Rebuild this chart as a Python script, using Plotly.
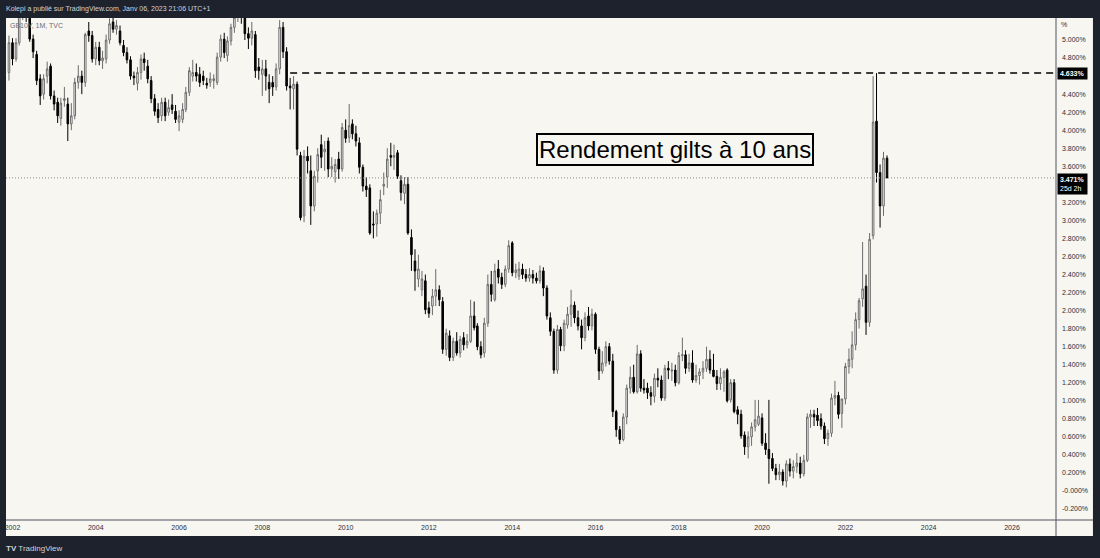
import pandas as pd
import plotly.graph_objects as go

# GB10Y, 1M, TVC : bougies mensuelles de déc. 2001 à janv. 2023
opens = [
    4.64,
    4.97, 4.79, 4.97, 5.30, 5.32, 5.24, 5.01, 4.84, 4.57, 4.40, 4.60, 4.71,  # 2002
    4.38, 4.31, 4.13, 4.33, 4.29, 4.07, 4.16, 4.53, 4.60, 4.53, 5.10, 5.05,  # 2003
    4.79, 4.92, 4.77, 4.79, 5.00, 5.20, 5.12, 5.10, 4.94, 4.86, 4.78, 4.60,  # 2004
    4.52, 4.64, 4.79, 4.71, 4.55, 4.35, 4.23, 4.16, 4.31, 4.20, 4.28, 4.21,  # 2005
    4.09, 4.12, 4.23, 4.42, 4.60, 4.64, 4.62, 4.60, 4.52, 4.53, 4.55, 4.53,  # 2006
    4.81, 5.01, 4.83, 4.99, 5.14, 5.25, 5.34, 5.26, 5.07, 5.02, 5.06, 4.70,  # 2007
    4.62, 4.68, 4.53, 4.53, 4.48, 4.68, 5.14, 4.87, 4.49, 4.46, 4.51, 3.72,  # 2008
    3.05, 3.71, 3.55, 3.16, 3.55, 3.84, 3.76, 3.88, 3.57, 3.54, 3.68, 3.57,  # 2009
    4.00, 3.92, 4.07, 3.96, 3.86, 3.59, 3.38, 3.36, 2.96, 2.96, 3.08, 3.38,  # 2010
    3.48, 3.72, 3.70, 3.75, 3.44, 3.30, 3.40, 2.81, 2.55, 2.35, 2.23, 2.33,  # 2011
    2.03, 2.05, 2.16, 2.23, 2.10, 1.57, 1.72, 1.48, 1.66, 1.53, 1.70, 1.62,  # 2012
    1.66, 1.94, 1.83, 1.60, 1.53, 1.86, 2.29, 2.12, 2.46, 2.37, 2.29, 2.46,  # 2013
    2.75, 2.42, 2.38, 2.46, 2.40, 2.36, 2.40, 2.36, 2.33, 2.44, 2.25, 1.92,  # 2014
    1.77, 1.34, 1.79, 1.61, 1.84, 1.96, 2.06, 1.92, 1.83, 1.70, 1.94, 1.83,  # 2015
    1.96, 1.57, 1.33, 1.42, 1.60, 1.44, 0.88, 0.68, 0.57, 0.82, 1.14, 1.26,  # 2016
    1.10, 1.52, 1.14, 1.14, 1.09, 1.05, 1.25, 1.23, 1.03, 1.36, 1.33, 1.34,  # 2017
    1.20, 1.50, 1.51, 1.36, 1.42, 1.23, 1.28, 1.32, 1.36, 1.46, 1.34, 1.27,  # 2018
    1.19, 1.26, 1.34, 1.01, 1.20, 0.90, 0.85, 0.62, 0.49, 0.60, 0.71, 0.74,  # 2019
    0.81, 0.53, 0.46, 0.36, 0.25, 0.18, 0.21, 0.11, 0.30, 0.22, 0.27, 0.31,  # 2020
    0.19, 0.34, 0.82, 0.85, 0.84, 0.80, 0.72, 0.58, 0.64, 1.03, 1.06, 0.86,  # 2021
    1.02, 1.38, 1.46, 1.62, 1.90, 2.13, 2.27, 1.87, 2.83, 4.10, 3.53, 3.16,  # 2022
    3.69,
]
highs = [
    5.05,
    5.02, 5.02, 5.40, 5.45, 5.45, 5.28, 5.06, 4.88, 4.62, 4.62, 4.76, 4.74,
    4.44, 4.36, 4.36, 4.48, 4.36, 4.30, 4.58, 4.72, 4.66, 5.08, 5.20, 5.10,
    4.98, 4.98, 4.88, 5.06, 5.24, 5.28, 5.22, 5.16, 5.00, 4.92, 4.82, 4.65,
    4.70, 4.84, 4.86, 4.78, 4.60, 4.40, 4.30, 4.36, 4.36, 4.34, 4.40, 4.28,
    4.22, 4.30, 4.48, 4.70, 4.78, 4.74, 4.70, 4.66, 4.58, 4.64, 4.62, 4.86,
    5.06, 5.08, 5.04, 5.18, 5.30, 5.55, 5.45, 5.32, 5.14, 5.20, 5.10, 4.80,
    4.78, 4.78, 4.62, 4.60, 4.74, 5.22, 5.20, 4.92, 4.58, 4.60, 4.54, 3.76,
    3.78, 3.82, 3.72, 3.55, 3.80, 3.95, 3.88, 3.92, 3.70, 3.68, 3.76, 4.08,
    4.12, 4.29, 4.12, 4.05, 3.92, 3.62, 3.48, 3.40, 3.10, 3.12, 3.34, 3.53,
    3.80, 3.86, 3.84, 3.78, 3.50, 3.48, 3.48, 2.90, 2.68, 2.62, 2.44, 2.40,
    2.10, 2.24, 2.46, 2.28, 2.15, 1.80, 1.78, 1.70, 1.76, 1.72, 1.76, 1.74,
    2.12, 2.10, 1.86, 1.66, 1.92, 2.40, 2.44, 2.52, 2.56, 2.42, 2.50, 2.78,
    2.77, 2.52, 2.54, 2.52, 2.46, 2.47, 2.45, 2.42, 2.50, 2.48, 2.28, 1.98,
    1.80, 1.84, 1.82, 1.90, 2.04, 2.23, 2.10, 2.00, 1.90, 1.98, 2.04, 2.02,
    1.98, 1.60, 1.55, 1.66, 1.64, 1.52, 0.90, 0.72, 0.86, 1.18, 1.38, 1.40,
    1.62, 1.56, 1.24, 1.20, 1.16, 1.30, 1.36, 1.28, 1.40, 1.44, 1.42, 1.40,
    1.54, 1.70, 1.56, 1.52, 1.56, 1.40, 1.36, 1.44, 1.60, 1.56, 1.52, 1.34,
    1.36, 1.34, 1.36, 1.24, 1.24, 0.94, 0.90, 0.66, 0.66, 0.76, 1.01, 1.01,
    0.86, 0.64, 1.01, 0.42, 0.30, 0.30, 0.24, 0.34, 0.36, 0.34, 0.42, 0.38,
    0.40, 0.86, 0.90, 0.90, 0.92, 0.86, 0.76, 0.68, 1.08, 1.22, 1.10, 1.02,
    1.42, 1.58, 1.77, 1.98, 2.14, 2.76, 2.40, 2.86, 4.60, 4.633, 3.62, 3.76,
    3.72,
]
lows = [
    4.55,
    4.72, 4.76, 4.94, 5.22, 5.20, 4.98, 4.80, 4.50, 4.28, 4.34, 4.52, 4.34,
    4.22, 4.08, 4.05, 4.26, 3.88, 4.00, 4.12, 4.46, 4.40, 4.48, 4.98, 4.75,
    4.72, 4.72, 4.68, 4.74, 4.96, 5.08, 5.06, 4.94, 4.82, 4.74, 4.56, 4.50,
    4.44, 4.56, 4.66, 4.52, 4.30, 4.16, 4.08, 4.10, 4.10, 4.16, 4.18, 4.08,
    3.99, 4.08, 4.20, 4.38, 4.54, 4.54, 4.48, 4.50, 4.46, 4.48, 4.46, 4.50,
    4.76, 4.80, 4.76, 4.94, 5.08, 5.20, 5.18, 5.00, 4.90, 4.94, 4.58, 4.56,
    4.38, 4.44, 4.30, 4.38, 4.44, 4.62, 4.80, 4.44, 4.23, 4.23, 3.72, 3.00,
    2.98, 3.52, 2.95, 3.10, 3.42, 3.58, 3.55, 3.48, 3.48, 3.42, 3.46, 3.54,
    3.86, 3.86, 3.90, 3.82, 3.52, 3.32, 3.26, 2.84, 2.80, 2.82, 2.96, 3.28,
    3.36, 3.60, 3.56, 3.46, 3.22, 3.18, 2.84, 2.44, 2.22, 2.26, 2.16, 1.96,
    1.92, 1.95, 2.05, 2.05, 1.52, 1.50, 1.44, 1.44, 1.50, 1.48, 1.56, 1.58,
    1.64, 1.78, 1.56, 1.47, 1.48, 1.82, 2.10, 2.10, 2.30, 2.24, 2.26, 2.42,
    2.38, 2.36, 2.34, 2.35, 2.32, 2.32, 2.30, 2.30, 2.30, 2.16, 1.90, 1.72,
    1.30, 1.30, 1.55, 1.55, 1.80, 1.82, 1.86, 1.78, 1.57, 1.66, 1.78, 1.78,
    1.52, 1.23, 1.30, 1.38, 1.40, 0.82, 0.60, 0.52, 0.55, 0.74, 1.08, 1.08,
    1.08, 1.10, 1.08, 1.02, 0.95, 0.98, 1.15, 1.00, 1.00, 1.24, 1.22, 1.16,
    1.18, 1.44, 1.30, 1.32, 1.20, 1.20, 1.18, 1.24, 1.32, 1.30, 1.26, 1.12,
    1.12, 1.10, 0.98, 0.98, 0.86, 0.74, 0.58, 0.40, 0.36, 0.50, 0.66, 0.72,
    0.50, 0.40, 0.08, 0.22, 0.12, 0.12, 0.06, 0.04, 0.16, 0.14, 0.20, 0.14,
    0.16, 0.32, 0.70, 0.72, 0.72, 0.68, 0.52, 0.50, 0.60, 0.95, 0.80, 0.70,
    0.96, 1.30, 1.36, 1.56, 1.80, 2.04, 1.73, 1.82, 2.79, 3.42, 2.92, 3.05,
    3.47,
]
closes = [
    4.97,
    4.79, 4.97, 5.30, 5.32, 5.26, 5.01, 4.87, 4.55, 4.38, 4.57, 4.68, 4.38,
    4.29, 4.16, 4.30, 4.35, 4.07, 4.16, 4.53, 4.60, 4.53, 5.06, 5.05, 4.79,
    4.92, 4.77, 4.80, 5.00, 5.18, 5.12, 5.16, 4.97, 4.86, 4.78, 4.60, 4.58,
    4.64, 4.79, 4.75, 4.57, 4.35, 4.21, 4.14, 4.31, 4.16, 4.25, 4.23, 4.12,
    4.16, 4.23, 4.42, 4.66, 4.64, 4.60, 4.53, 4.55, 4.50, 4.57, 4.57, 4.81,
    5.01, 4.86, 4.99, 5.14, 5.25, 5.36, 5.27, 5.07, 5.02, 5.10, 4.66, 4.66,
    4.68, 4.60, 4.46, 4.48, 4.68, 5.14, 4.87, 4.49, 4.47, 4.51, 3.79, 3.03,
    3.71, 3.66, 3.16, 3.49, 3.73, 3.70, 3.79, 3.57, 3.60, 3.62, 3.57, 4.03,
    3.91, 4.05, 3.96, 3.88, 3.59, 3.38, 3.34, 2.86, 2.95, 3.08, 3.23, 3.40,
    3.68, 3.70, 3.72, 3.49, 3.31, 3.40, 2.86, 2.62, 2.44, 2.46, 2.35, 2.01,
    1.97, 2.16, 2.23, 2.12, 1.57, 1.75, 1.48, 1.66, 1.53, 1.68, 1.62, 1.66,
    1.94, 1.81, 1.60, 1.51, 1.86, 2.29, 2.18, 2.44, 2.37, 2.29, 2.46, 2.72,
    2.42, 2.45, 2.46, 2.40, 2.36, 2.40, 2.36, 2.33, 2.44, 2.25, 1.94, 1.77,
    1.34, 1.79, 1.61, 1.86, 1.96, 2.06, 1.92, 1.83, 1.70, 1.92, 1.83, 1.96,
    1.57, 1.33, 1.42, 1.60, 1.44, 0.88, 0.68, 0.57, 0.82, 1.14, 1.26, 1.10,
    1.52, 1.14, 1.12, 1.09, 1.05, 1.25, 1.23, 1.03, 1.36, 1.34, 1.34, 1.20,
    1.50, 1.51, 1.36, 1.42, 1.23, 1.28, 1.32, 1.36, 1.46, 1.34, 1.27, 1.19,
    1.26, 1.32, 1.00, 1.20, 0.88, 0.85, 0.61, 0.49, 0.60, 0.71, 0.79, 0.83,
    0.53, 0.46, 0.36, 0.25, 0.18, 0.21, 0.11, 0.30, 0.22, 0.27, 0.31, 0.19,
    0.34, 0.82, 0.85, 0.82, 0.78, 0.72, 0.58, 0.64, 1.03, 1.06, 0.85, 1.02,
    1.38, 1.46, 1.62, 1.90, 2.11, 2.24, 1.87, 2.79, 4.09, 3.53, 3.16, 3.69,
    3.471,
]
dates = pd.date_range("2001-12-01", periods=len(closes), freq="MS")

peak_level = 4.633
last_close = 3.471
countdown = "25d 2h"
dash_start = "2008-09-01"

x_range = ["2001-11-05", "2027-01-22"]
y_range = [-0.322, 5.244]

year_ticks = ["2002-01-01", "2004-01-01", "2006-01-01", "2008-01-01", "2010-01-01",
              "2012-01-01", "2014-01-01", "2016-01-01", "2018-01-01", "2020-01-01",
              "2022-01-01", "2024-01-01", "2026-01-01"]
year_labels = ["2002", "2004", "2006", "2008", "2010", "2012", "2014",
               "2016", "2018", "2020", "2022", "2024", "2026"]
# 3.400% et 4.600% sont masqués par les étiquettes de prix
y_ticks = [-0.2, 0.0, 0.2, 0.4, 0.6, 0.8, 1.0, 1.2, 1.4, 1.6, 1.8, 2.0, 2.2, 2.4,
           2.6, 2.8, 3.0, 3.2, 3.6, 3.8, 4.0, 4.2, 4.4, 4.8, 5.0]
y_labels = ["-0.200%", "-0.000%", "0.200%", "0.400%", "0.600%", "0.800%", "1.000%",
            "1.200%", "1.400%", "1.600%", "1.800%", "2.000%", "2.200%", "2.400%",
            "2.600%", "2.800%", "3.000%", "3.200%", "3.600%", "3.800%",
            "4.000%", "4.200%", "4.400%", "4.800%", "5.000%"]

DARK = "#1e222d"
CREAM = "#f7f6f1"
EDGE = "#50535e"
TXT = "#2a2e39"
FONT = "Liberation Sans"

fig = go.Figure(go.Candlestick(
    x=dates, open=opens, high=highs, low=lows, close=closes,
    increasing=dict(line=dict(color="#6b6b6b", width=1), fillcolor="#ffffff"),
    decreasing=dict(line=dict(color="#000000", width=1), fillcolor="#000000"),
    whiskerwidth=0,
    showlegend=False,
))

# fond crème du panneau + échelles, bordures
shapes = [
    dict(type="rect", xref="paper", yref="paper", x0=0, x1=1.0352, y0=-0.0319, y1=1,
         fillcolor=CREAM, line=dict(width=0), layer="below"),
    dict(type="line", xref="paper", yref="paper", x0=0, x1=1.0352, y0=0, y1=0,
         line=dict(color=EDGE, width=1)),
    dict(type="line", xref="paper", yref="paper", x0=1, x1=1, y0=-0.0319, y1=1,
         line=dict(color=EDGE, width=1)),
    # plus haut 4.633 (pointillés noirs)
    dict(type="line", xref="x", yref="y", x0=dash_start, x1=x_range[1],
         y0=peak_level, y1=peak_level, line=dict(color="#000000", width=1.5, dash="7px,5px")),
    # dernier cours
    dict(type="line", xref="x", yref="y", x0=x_range[0], x1=x_range[1],
         y0=last_close, y1=last_close, line=dict(color="#8a8a8a", width=1, dash="1px,2px")),
]

annotations = [
    dict(text="Kolepi a publié sur TradingView.com, Janv 06, 2023 21:06 UTC+1",
         xref="paper", yref="paper", x=-0.002, y=1.018, xanchor="left", yanchor="middle",
         showarrow=False, font=dict(family=FONT, size=7, color="#d1d4dc")),
    dict(text="GB10Y, 1M, TVC", xref="paper", yref="paper", x=0.002, y=0.986,
         xanchor="left", yanchor="middle", showarrow=False,
         font=dict(family=FONT, size=7, color="#6a6d78")),
    dict(text="%", xref="paper", yref="paper", x=1.003, y=0.988, xanchor="left",
         yanchor="middle", showarrow=False, font=dict(family=FONT, size=7, color=TXT)),
    dict(text=f"<b>{peak_level:.3f}%</b>", xref="paper", yref="y", x=1.001, y=peak_level,
         xanchor="left", yanchor="middle", showarrow=False, bgcolor="#000000", borderpad=2,
         font=dict(family=FONT, size=7, color="#ffffff")),
    dict(text=f"<b>{last_close:.3f}%</b><br>{countdown}", xref="paper", yref="y", x=1.001,
         y=last_close, xanchor="left", yanchor="top", yshift=5, showarrow=False,
         bgcolor="#000000", borderpad=2, align="left",
         font=dict(family=FONT, size=7, color="#ffffff")),
    dict(text="Rendement gilts à 10 ans", xref="paper", yref="paper", x=0.637, y=0.739,
         xanchor="center", yanchor="middle", showarrow=False, bgcolor=CREAM,
         bordercolor="#000000", borderwidth=2, borderpad=1,
         font=dict(family=FONT, size=24, color="#000000")),
    dict(text="<b>TV</b> TradingView", xref="paper", yref="paper", x=-0.002, y=-0.056,
         xanchor="left", yanchor="middle", showarrow=False,
         font=dict(family=FONT, size=8, color="#d1d4dc")),
]

fig.update_layout(
    width=1100, height=558,
    paper_bgcolor=DARK, plot_bgcolor=CREAM,
    margin=dict(l=6, r=44, t=18, b=38),
    boxgap=0.3,
    shapes=shapes,
    annotations=annotations,
    xaxis=dict(
        type="date", range=x_range, rangeslider=dict(visible=False),
        tickvals=year_ticks, ticktext=year_labels, showgrid=False, zeroline=False,
        showline=False, ticks="", ticklabelstandoff=2,
        tickfont=dict(family=FONT, size=7, color=TXT),
    ),
    yaxis=dict(
        side="right", range=y_range, tickvals=y_ticks, ticktext=y_labels,
        showgrid=False, zeroline=False, showline=False, ticks="", ticklabelstandoff=5,
        tickfont=dict(family=FONT, size=7, color=TXT),
    ),
    hovermode=False,
)

fig.write_html(
    "out.html",
    config={"displayModeBar": False},
    post_script="document.body.style.margin='0';document.body.style.background='#1e222d';",
)
